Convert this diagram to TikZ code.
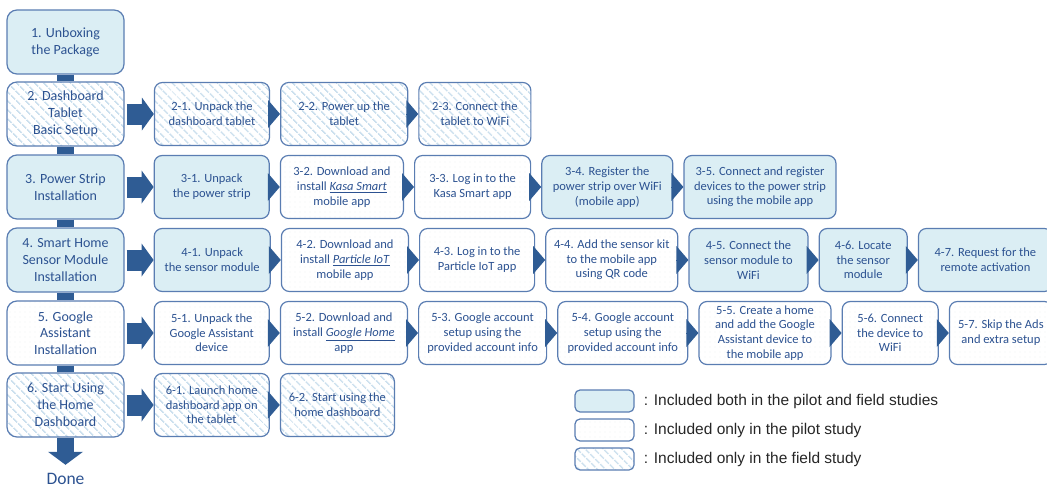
\documentclass[tikz,border=0pt]{standalone}
\usepackage{fontspec}
\setmainfont{Carlito}
\newfontfamily\legendfont{Liberation Sans}
\usetikzlibrary{positioning,arrows.meta,patterns.meta}

\definecolor{boxline}{HTML}{5A7DB2}
\definecolor{bothfill}{HTML}{DBEEF4}
\definecolor{steptext}{HTML}{2C5291}
\definecolor{arrowblue}{HTML}{2F5C94}
\definecolor{stripe}{HTML}{CCE0EE}
\definecolor{dotgray}{HTML}{D3DCE6}

\newcommand{\appname}[1]{\underline{\textit{#1}}}

\begin{document}
\begin{tikzpicture}[x=1pt, y=-1pt, node distance=10pt,
        phase/.style={rectangle, rounded corners=10pt, draw=boxline, line width=1.2pt, text=steptext, align=center, minimum width=117pt, minimum height=64pt, inner sep=1pt, font=\fontsize{14}{16.8}\selectfont},
        task/.style={rectangle, rounded corners=8pt, draw=boxline, line width=1.2pt, text=steptext, align=center, minimum height=63pt, inner sep=1pt, font=\fontsize{12.5}{14.7}\selectfont},
        both/.style={fill=bothfill},
        pilot/.style={preaction={fill=white}, pattern={Dots[distance=5pt, radius=0.45pt]}, pattern color=dotgray},
        field/.style={preaction={fill=white}, pattern={Lines[angle=-45, distance=6.5pt, line width=1.7pt]}, pattern color=stripe},
        bar/.style={draw=arrowblue, line width=17pt},
        push/.style={draw=arrowblue, line width=21pt, -{Triangle[width=33pt, length=12pt, line width=0pt]}, shorten <=2pt},
        link/.style={draw=arrowblue, line width=0.5pt, -{Triangle[width=28pt, length=12pt, line width=0pt]}},
        key/.style={rectangle, rounded corners=5pt, draw=boxline, line width=1.2pt, minimum width=59pt, minimum height=22pt},
        keytext/.style={text=black!85, inner sep=2pt, font=\legendfont\fontsize{15.5}{18}\selectfont},
    ]
    \useasboundingbox (0,0) rectangle (1047,487);

    % main phases
    \node[phase, both] (n1) at (65.5,42) {1. Unboxing\\the Package};
    \node[phase, field] (n2) at (65.5,114) {2. Dashboard\\Tablet\\Basic Setup};
    \node[phase, both] (n3) at (65.5,187) {3. Power Strip\\Installation};
    \node[phase, both] (n4) at (65.5,260) {4. Smart Home\\Sensor Module\\Installation};
    \node[phase, pilot] (n5) at (65.5,333) {5. Google\\Assistant\\Installation};
    \node[phase, field] (n6) at (65.5,405) {6. Start Using\\the Home\\Dashboard};
    \node[text=steptext, font=\fontsize{17.5}{20}\selectfont] (done) at (65.5,479) {Done};

    % row 2
    \node[task, field, minimum width=115pt] (s21) [right=29pt of n2] {2-1. Unpack the\\dashboard tablet};
    \node[task, field, minimum width=127pt] (s22) [right=of s21] {2-2. Power up the\\tablet};
    \node[task, field, minimum width=112pt] (s23) [right=of s22] {2-3. Connect the\\tablet to WiFi};

    % row 3
    \node[task, both, minimum width=115pt] (s31) [right=29pt of n3] {3-1. Unpack\\the power strip};
    \node[task, pilot, minimum width=123pt] (s32) [right=of s31] {3-2. Download and\\install \appname{Kasa Smart}\\mobile app};
    \node[task, pilot, minimum width=116pt] (s33) [right=of s32] {3-3. Log in to the\\Kasa Smart app};
    \node[task, both, minimum width=131pt] (s34) [right=of s33] {3-4. Register the\\power strip over WiFi\\(mobile app)};
    \node[task, both, minimum width=152pt] (s35) [right=of s34] {3-5. Connect and register\\devices to the power strip\\using the mobile app};

    % row 4
    \node[task, both, minimum width=116pt] (s41) [right=29pt of n4] {4-1. Unpack\\the sensor module};
    \node[task, pilot, minimum width=127pt] (s42) [right=of s41] {4-2. Download and\\install \appname{Particle IoT}\\mobile app};
    \node[task, pilot, minimum width=115pt] (s43) [right=of s42] {4-3. Log in to the\\Particle IoT app};
    \node[task, pilot, minimum width=132pt] (s44) [right=of s43] {4-4. Add the sensor kit\\to the mobile app\\using QR code};
    \node[task, both, minimum width=119pt] (s45) [right=of s44] {4-5. Connect the\\sensor module to\\WiFi};
    \node[task, both, minimum width=88pt] (s46) [right=of s45] {4-6. Locate\\the sensor\\module};
    \node[task, both, minimum width=134pt] (s47) [right=of s46] {4-7. Request for the\\remote activation};

    % row 5
    \node[task, pilot, minimum width=115pt] (s51) [right=29pt of n5] {5-1. Unpack the\\Google Assistant\\device};
    \node[task, pilot, minimum width=127pt] (s52) [right=of s51] {5-2. Download and\\install \appname{Google Home}\\app};
    \node[task, pilot, minimum width=128pt] (s53) [right=of s52] {5-3. Google account\\setup using the\\provided account info};
    \node[task, pilot, minimum width=130pt] (s54) [right=of s53] {5-4. Google account\\setup using the\\provided account info};
    \node[task, pilot, minimum width=132pt] (s55) [right=of s54] {5-5. Create a home\\and add the Google\\Assistant device to\\the mobile app};
    \node[task, pilot, minimum width=96pt] (s56) [right=of s55] {5-6. Connect\\the device to\\WiFi};
    \node[task, pilot, minimum width=103pt] (s57) [right=of s56] {5-7. Skip the Ads\\and extra setup};

    % row 6
    \node[task, field, minimum width=115pt] (s61) [right=29pt of n6] {6-1. Launch home\\dashboard app on\\the tablet};
    \node[task, field, minimum width=114pt] (s62) [right=of s61] {6-2. Start using the\\home dashboard};

    % legend
    \node[key, both] (kboth) at (604.5,401) {};
    \node[key, pilot] (kpilot) at (604.5,430) {};
    \node[key, field] (kfield) at (604.5,459) {};
    \node[keytext] (tboth) [right=7pt of kboth] {: Included both in the pilot and field studies};
    \node[keytext] (tpilot) [right=7pt of kpilot] {: Included only in the pilot study};
    \node[keytext] (tfield) [right=7pt of kfield] {: Included only in the field study};

    % arrows
    \draw[bar] (n1.south) -- (n2.north);
    \draw[bar] (n2.south) -- (n3.north);
    \draw[bar] (n3.south) -- (n4.north);
    \draw[bar] (n4.south) -- (n5.north);
    \draw[bar] (n5.south) -- (n6.north);
    \draw[bar, -{Triangle[width=35pt, length=13pt, line width=0pt]}, shorten >=5pt] (n6.south) -- (done.north);

    \draw[push] (n2.east) -- (s21.west);
    \draw[push] (n3.east) -- (s31.west);
    \draw[push] (n4.east) -- (s41.west);
    \draw[push] (n5.east) -- (s51.west);
    \draw[push] (n6.east) -- (s61.west);

    \draw[link] (s21.east) -- (s22.west);
    \draw[link] (s22.east) -- (s23.west);
    \draw[link] (s31.east) -- (s32.west);
    \draw[link] (s32.east) -- (s33.west);
    \draw[link] (s33.east) -- (s34.west);
    \draw[link] (s34.east) -- (s35.west);
    \draw[link] (s41.east) -- (s42.west);
    \draw[link] (s42.east) -- (s43.west);
    \draw[link] (s43.east) -- (s44.west);
    \draw[link] (s44.east) -- (s45.west);
    \draw[link] (s45.east) -- (s46.west);
    \draw[link] (s46.east) -- (s47.west);
    \draw[link] (s51.east) -- (s52.west);
    \draw[link] (s52.east) -- (s53.west);
    \draw[link] (s53.east) -- (s54.west);
    \draw[link] (s54.east) -- (s55.west);
    \draw[link] (s55.east) -- (s56.west);
    \draw[link] (s56.east) -- (s57.west);
    \draw[link] (s61.east) -- (s62.west);
\end{tikzpicture}
\end{document}
